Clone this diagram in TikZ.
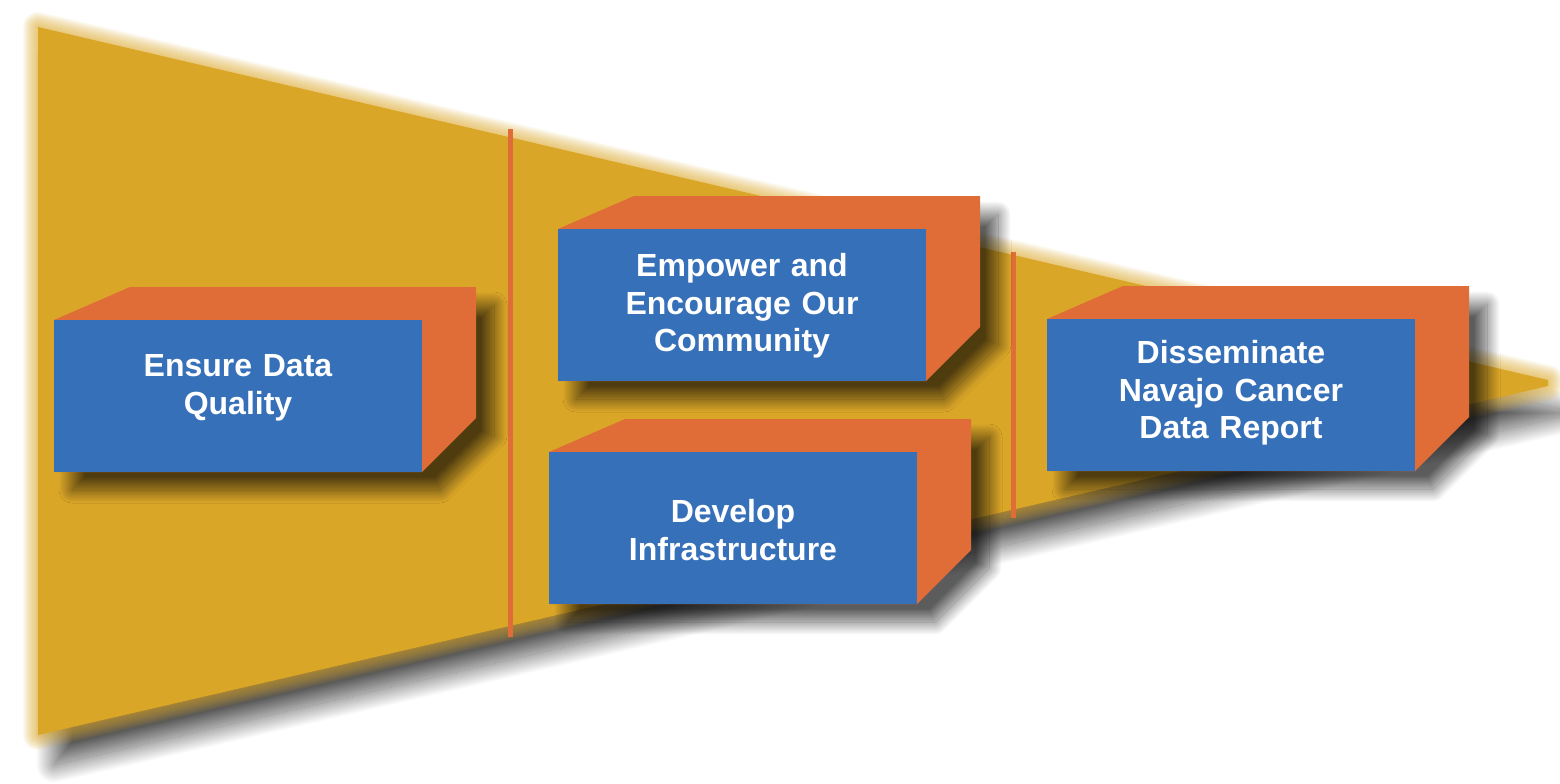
\documentclass[tikz,border=0pt]{standalone}
\usepackage{fontspec}
\setmainfont{Liberation Sans}
\usetikzlibrary{shadows.blur,calc}
\definecolor{funnelyellow}{HTML}{DAA628}
\definecolor{cubeorange}{HTML}{E06C37}
\definecolor{cubeblue}{HTML}{3670B8}
\newcommand\cubebox[4]{%
  \path (#2) ++(-184,-76) coordinate (#1-nw) ++(368,0) coordinate (#1-ne)
        ++(0,152) coordinate (#1-se) ++(-368,0) coordinate (#1-sw);
  \path[cubeside] (#1-sw) -- (#1-nw) -- ($(#1-nw)+(76,-33)$) -- ($(#1-ne)+(54,-33)$)
        -- ($(#1-se)+(54,-54)$) -- (#1-se) -- cycle;
  \path[cubefront] (#1-nw) rectangle (#1-se);
  \node[cubetext] (#1) at ($(#2)+(0,#4)$) {#3};
}
\begin{document}
\begin{tikzpicture}[x=1pt,y=-1pt,
  cubeside/.style={fill=cubeorange,
    blur shadow={shadow xshift=18pt, shadow yshift=-18pt, shadow blur radius=13pt,
      shadow blur steps=50, shadow opacity=64}},
  cubefront/.style={fill=cubeblue},
  cubetext/.style={text=white, font=\bfseries\fontsize{32}{37.5}\selectfont,
    align=center, text width=360pt, inner sep=0pt},
  divider/.style={draw=cubeorange, line width=5pt},
  funnelsoft/.style={funnelyellow, opacity=0.06, line join=round}]
\useasboundingbox (0,0) rectangle (1560,784);
% funnel
\coordinate (ftl) at (38,27);
\coordinate (ftr) at (1548,380);
\coordinate (fbr) at (1548,386);
\coordinate (fbl) at (38,735);
\path[fill=funnelyellow,
  blur shadow={shadow xshift=16pt, shadow yshift=-30pt, shadow blur radius=18pt,
    shadow blur steps=60, shadow opacity=66}]
  (ftl) -- (ftr) -- (fbr) -- (fbl) -- cycle;
\foreach \w in {30,28,...,2}
  \draw[funnelsoft, line width=\w pt] (ftl) -- (ftr) -- (fbr) -- (fbl) -- cycle;
% dividers
\coordinate (d1t) at (510,129);
\coordinate (d1b) at (510,637);
\coordinate (d2t) at (1013,252);
\coordinate (d2b) at (1013,518);
\draw[divider] (d1t) -- (d1b);
\draw[divider] (d2t) -- (d2b);
% cubes
\cubebox{quality}{238,396}{Ensure Data\\Quality}{-8}
\cubebox{empower}{742,305}{Empower and\\Encourage Our\\Community}{1}
\cubebox{develop}{733,528}{Develop\\Infrastructure}{2}
\cubebox{report}{1231,395}{Disseminate\\Navajo Cancer\\Data Report}{-2}
\end{tikzpicture}
\end{document}
